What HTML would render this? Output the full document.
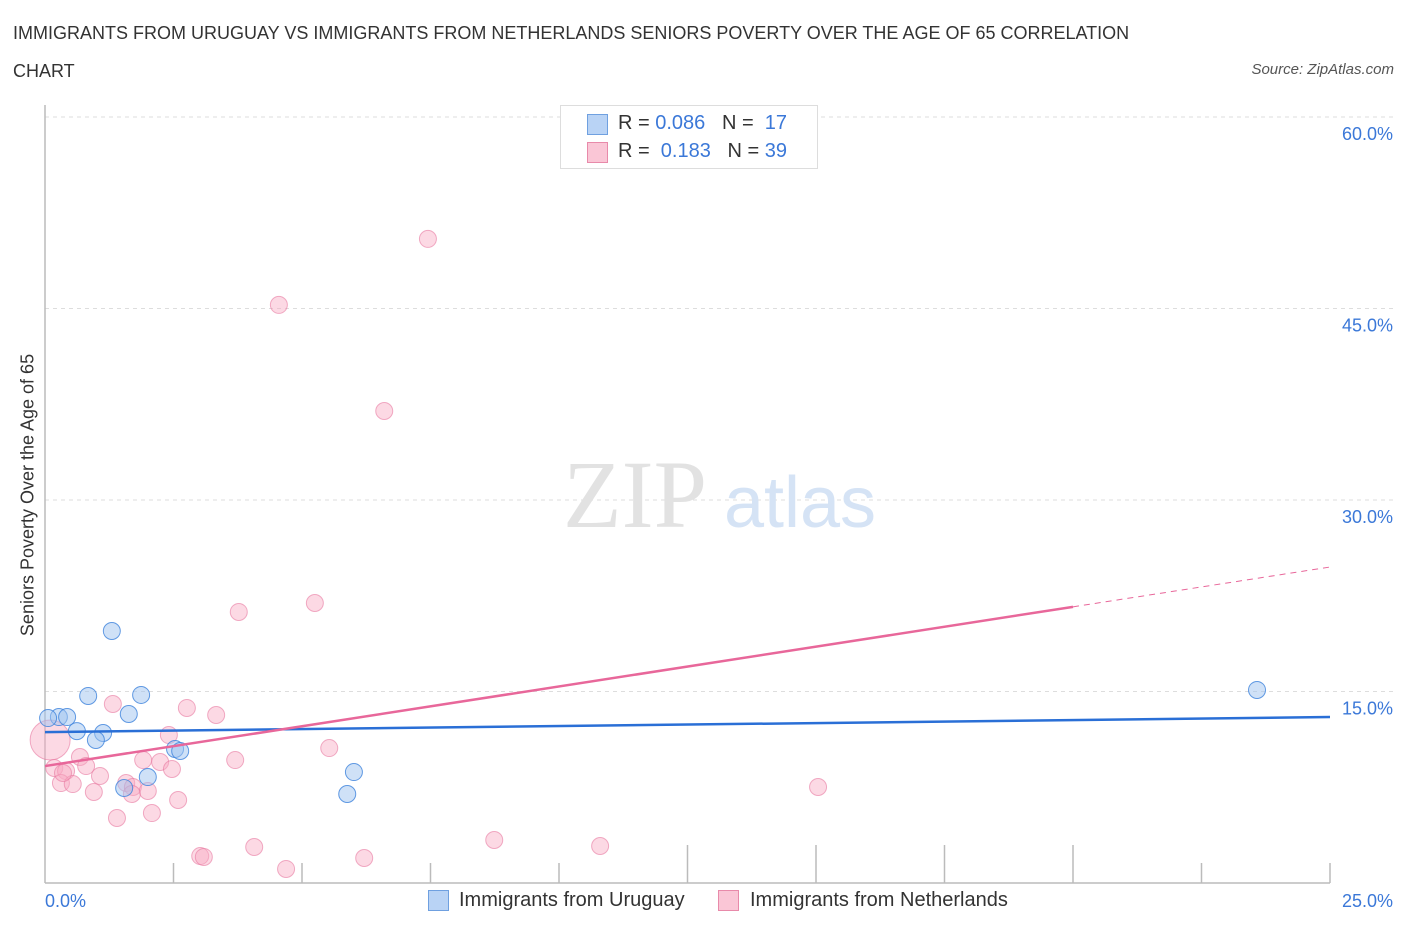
<!DOCTYPE html>
<html><head><meta charset="utf-8"><style>
body{margin:0;background:#fff;font-family:"Liberation Sans",sans-serif;}
.t{position:absolute;color:#333;font-size:18px;}
</style></head><body>
<div style="position:relative;width:1406px;height:930px;overflow:hidden">
<div class="t" style="left:13px;top:14px;line-height:38px;width:1200px">IMMIGRANTS FROM URUGUAY VS IMMIGRANTS FROM NETHERLANDS SENIORS POVERTY OVER THE AGE OF 65 CORRELATION<br>CHART</div>
<div class="t" style="right:12px;top:61px;font-size:15px;font-style:italic;color:#555">Source: ZipAtlas.com</div>
<svg id="svg" width="1406" height="930" style="position:absolute;left:0;top:0"></svg>
</div>
<script>
const blueX=[1.30,0.84,1.87,1.63,0.27,0.43,0.06,0.62,1.13,0.99,2.53,2.63,2.00,1.54,6.01,5.88,23.58];
const blueY=[19.74,14.65,14.73,13.24,13.00,13.00,12.92,11.90,11.75,11.20,10.50,10.34,8.30,7.44,8.69,6.97,15.12];
const pinkX=[7.45,4.55,6.60,5.25,3.77,1.32,2.76,3.33,2.41,0.10,5.53,0.68,3.70,0.18,0.41,1.91,2.24,2.47,0.80,1.07,1.58,1.71,2.00,0.31,0.54,0.95,2.59,1.69,2.08,1.40,3.02,3.09,4.07,4.69,6.21,8.74,10.80,15.04,0.35];
const pinkY=[50.45,45.28,36.97,21.93,21.23,14.02,13.71,13.16,11.59,11.20,10.57,9.87,9.63,9.01,8.77,9.63,9.48,8.93,9.16,8.38,7.83,7.52,7.21,7.83,7.75,7.13,6.50,6.97,5.48,5.09,2.11,2.04,2.82,1.10,1.96,3.37,2.90,7.52,8.62];
const yTicks=[15,30,45,60];
const yTickLabels=["15.0%","30.0%","45.0%","60.0%"];
const blueTrend=[11.82,13.00];
const pinkTrend=[9.16,24.75];
const xMax=25,yMax=60;
const X=v=>45+v/xMax*1285, Y=v=>883-v/15*191.5;
const s=document.getElementById('svg');const NS='http://www.w3.org/2000/svg';
function mk(t,a){const e=document.createElementNS(NS,t);for(const k in a)e.setAttribute(k,a[k]);s.appendChild(e);return e;}
yTicks.forEach((v,i)=>{
 const g=mk('line',{x1:45,x2:1395,y1:Y(v),y2:Y(v),stroke:'#ddd','stroke-dasharray':'4,4'});
 
 
 const t=mk('text',{x:1393,y:Y(v)+23,'text-anchor':'end','font-size':18,fill:'#3b78d8','font-family':'Liberation Sans'});t.textContent=yTickLabels[i];
 
 
});
for(let i=1;i<=10;i++){const tk=mk('line',{x1:X(i*2.5),x2:X(i*2.5),y1:i>=5&&i<=8?845:863,y2:883,stroke:'#bbb','stroke-width':1.5});
 
 }
const ax=mk('line',{x1:45,x2:1330,y1:883,y2:883,stroke:'#bbb','stroke-width':1.5});


const ay=mk('line',{x1:45,x2:45,y1:105,y2:883,stroke:'#bbb','stroke-width':1.5});


const w1=mk('text',{x:635,y:527,'text-anchor':'middle','font-size':96,fill:'#e2e2e2','font-family':'Liberation Serif'});w1.textContent='ZIP';


const w2=mk('text',{x:800,y:527,'text-anchor':'middle','font-size':72,fill:'#d5e3f5','font-family':'Liberation Sans'});w2.textContent='atlas';


pinkX.forEach((v,i)=>{const c=mk('circle',{cx:X(v),cy:Y(pinkY[i]),r:i==9?20:8.5,fill:'rgba(248,170,195,0.45)',stroke:'rgba(232,120,160,0.6)','stroke-width':1});
 
 });
blueX.forEach((v,i)=>{const c=mk('circle',{cx:X(v),cy:Y(blueY[i]),r:8.5,fill:'rgba(160,195,240,0.5)',stroke:'rgba(60,130,220,0.8)','stroke-width':1});
 
 });
const bt=mk('line',{x1:X(0),x2:X(25),y1:Y(blueTrend[0]),y2:Y(blueTrend[1]),stroke:'#2a6fd6','stroke-width':2.5});


const pm=pinkTrend[0]+(pinkTrend[1]-pinkTrend[0])*0.8;
const pt=mk('line',{x1:X(0),x2:X(20),y1:Y(pinkTrend[0]),y2:Y(pm),stroke:'#e8679a','stroke-width':2.5});


const pd=mk('line',{x1:X(20),x2:X(25),y1:Y(pm),y2:Y(pinkTrend[1]),stroke:'#e8679a','stroke-width':1,'stroke-dasharray':'6,5'});


</script>
<div class="t" style="left:45px;top:891px;color:#3b78d8">0.0%</div>
<div class="t" style="right:13px;top:891px;color:#3b78d8">25.0%</div>
<div class="t" style="top:495px;transform:translate(-50%,-50%) rotate(-90deg);transform-origin:center;left:28px;white-space:nowrap">Seniors Poverty Over the Age of 65</div>
<div style="position:absolute;left:560px;top:105px;width:256px;height:62px;border:1px solid #ddd;background:#fff;font-size:20px">
 <div style="position:absolute;left:26px;top:8px;width:19px;height:19px;background:#b9d3f5;border:1px solid #6fa0e0"></div>
 <div style="position:absolute;left:57px;top:6px;color:#333">R = <span style="color:#3b78d8">0.086</span>&nbsp;&nbsp;&nbsp;N = &nbsp;<span style="color:#3b78d8">17</span></div>
 <div style="position:absolute;left:26px;top:36px;width:19px;height:19px;background:#fac6d6;border:1px solid #e88aaa"></div>
 <div style="position:absolute;left:57px;top:34px;color:#333">R = &nbsp;<span style="color:#3b78d8">0.183</span>&nbsp;&nbsp;&nbsp;N = <span style="color:#3b78d8">39</span></div>
</div>
<div style="position:absolute;left:428px;top:890px;width:19px;height:19px;background:#b9d3f5;border:1px solid #6fa0e0"></div>
<div class="t" style="left:459px;top:889px;font-size:20px">Immigrants from Uruguay</div>
<div style="position:absolute;left:718px;top:890px;width:19px;height:19px;background:#fac6d6;border:1px solid #e88aaa"></div>
<div class="t" style="left:750px;top:889px;font-size:20px">Immigrants from Netherlands</div>
</body></html>
